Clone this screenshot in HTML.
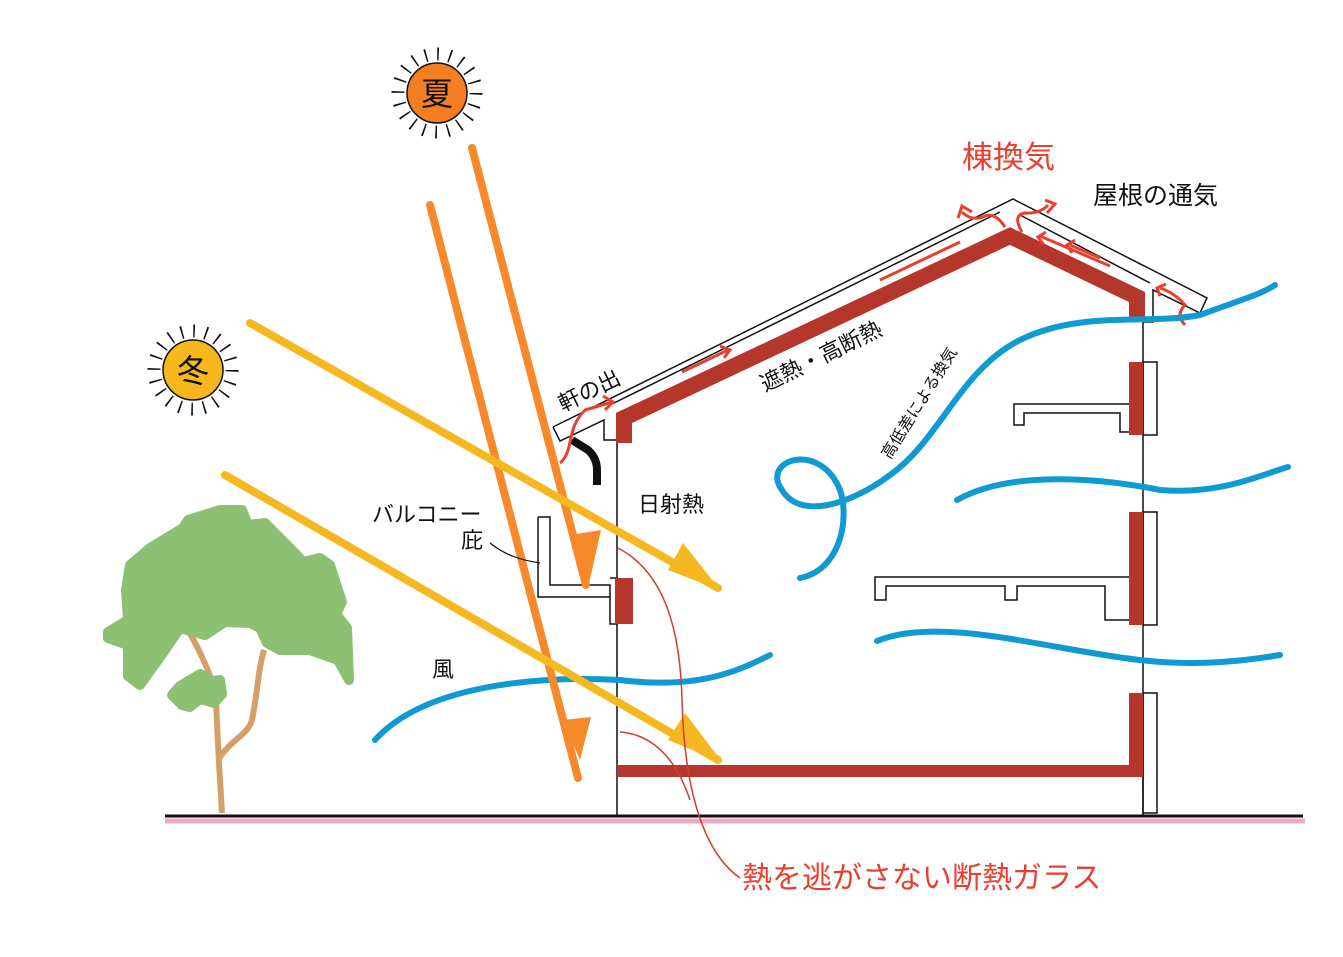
<!DOCTYPE html>
<html><head><meta charset="utf-8"><style>
html,body{margin:0;padding:0;background:#fff;}
svg{display:block;font-family:"Liberation Sans","Noto Sans CJK JP",sans-serif;}
</style></head><body>
<svg width="1343" height="957" viewBox="0 0 1343 957" xmlns="http://www.w3.org/2000/svg">
<rect width="1343" height="957" fill="#fff"/>
<!-- suns -->
<circle cx="437" cy="93" r="39" fill="none" stroke="#111" stroke-width="13" stroke-dasharray="1.6 10.65"/>
<circle cx="437" cy="93" r="31" fill="#fff"/>
<circle cx="437" cy="93" r="30" fill="#f47f22" stroke="#111" stroke-width="1.5"/>
<text x="437" y="105" font-size="32" text-anchor="middle" fill="#111">夏</text>
<circle cx="193" cy="370" r="39" fill="none" stroke="#111" stroke-width="13" stroke-dasharray="1.6 10.65"/>
<circle cx="193" cy="370" r="31" fill="#fff"/>
<circle cx="193" cy="370" r="30" fill="#f6b81c" stroke="#111" stroke-width="1.5"/>
<text x="193" y="382" font-size="32" text-anchor="middle" fill="#111">冬</text>

<!-- tree -->
<path d="M222,813 C220,780 218,750 216,700 C214,680 200,650 185,625" fill="none" stroke="#d4a06a" stroke-width="6"/>
<path d="M218,760 C230,740 248,735 252,720 C258,690 258,670 264,650" fill="none" stroke="#d4a06a" stroke-width="6"/>
<g fill="#8cc072" stroke="#8cc072" stroke-width="10" stroke-linejoin="round">
<path d="M130,565 L150,548 L183,528 L188,520 L220,510 L242,510 L248,525 L265,523 L275,533 L295,553 L303,562 L320,558 L330,565 L338,590 L342,602 L336,614 L347,628 L349,680 L338,660 L310,650 L280,650 L267,643 L260,628 L250,623 L225,622 L205,635 L180,628 L163,653 L140,685 L128,676 L128,645 L108,638 L108,632 L128,620 L126,590 Z"/>
<path d="M172,695 L180,686 L190,680 L200,674 L212,681 L220,680 L222,694 L214,703 L200,699 L190,707 L182,705 Z"/>
</g>

<!-- ground -->
<line x1="165" y1="821" x2="1305" y2="821" stroke="#f0a8c8" stroke-width="5"/>
<line x1="165" y1="816" x2="1303" y2="816" stroke="#111" stroke-width="3"/>

<!-- house lines -->
<g fill="none" stroke="#111" stroke-width="1.5">
<line x1="617" y1="440" x2="617" y2="816"/>
<line x1="1143" y1="322" x2="1143" y2="816"/>
<path d="M553,427 L1013,199 L1207,298 L1200,313 L1153,290 L1153,322 L1143,322"/>
<path d="M553,427 L560,441 L604,420 L604,440 L617,440"/>
<path d="M1000,212 L612,404"/>
<path d="M1020,215 L1150,283"/>
<path d="M538,517 L550,517 L550,585 L610,585 L610,624 L617,624 M538,517 L538,597 L610,597 M610,578 L617,578"/>
<rect x="1143" y="362" width="14" height="73"/>
<rect x="1143" y="512" width="14" height="113"/>
<rect x="1143" y="693" width="14" height="120"/>
<path d="M1130,404 L1014,404 L1014,425 L1024,425 L1024,413 L1120,413 L1120,432 L1130,432"/>
<path d="M1130,577 L875,577 L875,600 L886,600 L886,586 L1005,586 L1005,600 L1017,600 L1017,586 L1105,586 L1105,620 L1130,620"/>
</g>
<!-- gutter -->
<path d="M572,440 L588,450 Q597,458 597,470 L597,485" fill="none" stroke="#111" stroke-width="8"/>

<!-- red insulation -->
<path d="M624,443 L624,418 L1010,236 L1137,297 L1137,320" fill="none" stroke="#b5372c" stroke-width="16"/>
<line x1="617" y1="771" x2="1143" y2="771" stroke="#b5372c" stroke-width="12"/>
<rect x="1129" y="362" width="14" height="73" fill="#b5372c"/>
<rect x="1129" y="512" width="14" height="113" fill="#b5372c"/>
<rect x="1129" y="693" width="14" height="84" fill="#b5372c"/>
<rect x="615" y="578" width="18" height="46" fill="#b5372c"/>

<!-- roof air arrows -->
<g fill="none" stroke="#e8402e" stroke-width="3">
<path d="M560,463 C575,450 565,430 585,410 L612,402"/><path d="M603,396 L613,402 L605,410"/>
<line x1="682" y1="372" x2="728" y2="350"/><path d="M720,346 L730,350 L724,358"/>
<line x1="880" y1="280" x2="960" y2="242"/>
<path d="M1005,227 Q995,212 985,216 Q972,222 962,212"/><path d="M958,218 L962,206 L972,212"/>
<path d="M1022,232 Q1012,215 1025,213 Q1040,214 1048,205"/><path d="M1045,200 L1055,204 L1047,213"/>
<line x1="1110" y1="266" x2="1040" y2="236"/><path d="M1046,232 L1038,237 L1044,245"/>
<line x1="1100" y1="258" x2="1070" y2="245"/><path d="M1075,240 L1067,245 L1072,253"/>
<path d="M1185,325 Q1175,315 1185,305 Q1175,293 1160,288"/><path d="M1160,296 L1157,288 L1166,284"/>
</g>

<!-- blue wind -->
<g fill="none" stroke="#0f9ad3" stroke-width="6" stroke-linecap="round">
<path d="M375,740 C420,690 520,675 620,680 C700,690 740,670 770,655"/>
<path d="M800,578 C840,570 850,520 840,490 C820,440 760,460 782,490 C800,520 850,505 890,475 C940,440 960,370 1020,340 C1080,310 1150,325 1200,315 C1240,300 1260,295 1275,285"/>
<path d="M957,500 C1010,470 1100,478 1160,490 C1220,495 1260,475 1288,467"/>
<path d="M877,641 C940,615 1050,650 1140,660 C1200,667 1250,660 1280,655"/>
</g>

<!-- sun rays -->
<g stroke-linecap="round">
<line x1="430" y1="205" x2="578" y2="778" stroke="#f6892a" stroke-width="8"/>
<polygon points="563,720 591,717 580,760" fill="#f6892a"/>
<line x1="472" y1="148" x2="586" y2="585" stroke="#f6892a" stroke-width="8"/>
<polygon points="570,535 601,530 588,588" fill="#f6892a"/>
<line x1="250" y1="323" x2="718" y2="588" stroke="#f6b820" stroke-width="8"/>
<polygon points="683,543 720,590 668,570" fill="#f6b820"/>
<line x1="225" y1="475" x2="718" y2="760" stroke="#f6b820" stroke-width="8"/>
<polygon points="685,713 722,762 668,740" fill="#f6b820"/>
</g>

<!-- red thin glass line -->
<path d="M618,548 C660,570 680,620 682,700 C684,780 700,850 740,878" fill="none" stroke="#d33b2c" stroke-width="1.5"/>
<path d="M620,732 C660,735 680,770 690,800" fill="none" stroke="#d33b2c" stroke-width="1.5"/>
<path d="M490,543 C505,555 520,560 540,563" fill="none" stroke="#111" stroke-width="1.2"/>

<!-- labels -->
<g fill="#111">
<text x="1093" y="204" font-size="25">屋根の通気</text>
<text x="638" y="512" font-size="22">日射熱</text>
<text x="372" y="522" font-size="22">バルコニー</text>
<text x="461" y="548" font-size="22">庇</text>
<text x="432" y="677" font-size="22">風</text>
<text transform="translate(563,412) rotate(-26)" font-size="22">軒の出</text>
<text transform="translate(765,392) rotate(-26)" font-size="22">遮熱・高断熱</text>
<text transform="translate(890,460) rotate(-58)" font-size="16">高低差による換気</text>
</g>
<text x="962" y="168" font-size="31" fill="#e8402e">棟換気</text>
<text x="742" y="888" font-size="30" fill="#e8402e">熱を逃がさない断熱ガラス</text>
</svg>
</body></html>
